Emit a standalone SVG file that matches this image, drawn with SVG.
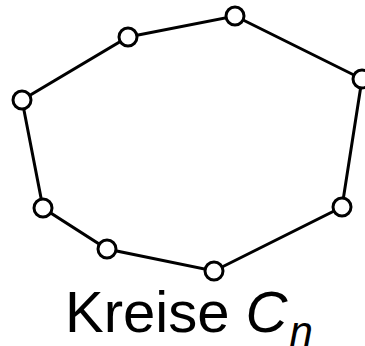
<svg xmlns="http://www.w3.org/2000/svg" width="365" height="346" viewBox="0 0 365 346">
<style>
.e{stroke:#000;stroke-width:3;fill:none}
.n{fill:#fff;stroke:#000;stroke-width:3}
text{font-family:"Liberation Sans",Arial,sans-serif;fill:#000}
</style>
<rect width="365" height="346" fill="#fff"/>
<g id="edges">
<polygon class="e" points="128,37 235,16 362,79 342,207 214,271 107,249 43,208 22,100"/>
</g>
<g id="n1"><circle class="n" cx="128" cy="37" r="9"/></g>
<g id="n2"><circle class="n" cx="235" cy="16" r="9"/></g>
<g id="n3"><circle class="n" cx="362" cy="79" r="9"/></g>
<g id="n4"><circle class="n" cx="342" cy="207" r="9"/></g>
<g id="n5"><circle class="n" cx="214" cy="271" r="9"/></g>
<g id="n6"><circle class="n" cx="107" cy="249" r="9"/></g>
<g id="n7"><circle class="n" cx="43" cy="208" r="9"/></g>
<g id="n8"><circle class="n" cx="22" cy="100" r="9"/></g>
<g id="label"><text x="65" y="332" font-size="58">Kreise <tspan font-style="italic">C</tspan><tspan font-style="italic" font-size="42" dx="2" dy="14">n</tspan></text></g>
</svg>
